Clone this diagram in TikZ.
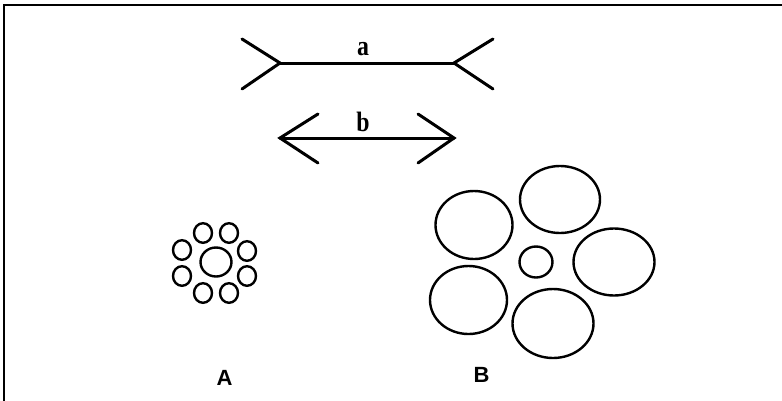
\documentclass[tikz,border=0pt]{standalone}
\usepackage{fontspec}
\setmainfont{Liberation Serif}
\setsansfont{Liberation Sans}
\begin{document}
\begin{tikzpicture}[x=1pt,y=-1pt,
  fig/.style={line width=3pt,line cap=round,line join=miter},
  ring/.style={line width=2.4pt},
  lower/.style={font=\bfseries\fontsize{28}{28}\selectfont,inner sep=0pt,xscale=0.85},
  upper/.style={font=\sffamily\bfseries\fontsize{22}{22}\selectfont,inner sep=0pt}]
\useasboundingbox (0,0) rectangle (782,400);
% frame (top and left edges only)
\draw[line width=2.2pt] (4,401) -- (4,5) -- (783,5);
% figure a
\coordinate (aL) at (280,63);
\coordinate (aR) at (454,63);
\coordinate (aL1) at (242,39);
\coordinate (aL2) at (242,89);
\coordinate (aR1) at (493,39);
\coordinate (aR2) at (493,89);
\draw[fig] (aL1) -- (aL) -- (aL2);
\draw[fig] (aR1) -- (aR) -- (aR2);
\draw[fig] (aL) -- (aR);
\node[lower] (la) at (363,49) {a};
% figure b
\coordinate (bL) at (280,138);
\coordinate (bR) at (454,138);
\coordinate (bL1) at (318,114);
\coordinate (bL2) at (318,163);
\coordinate (bR1) at (418,114);
\coordinate (bR2) at (418,163);
\draw[fig] (bL1) -- (bL) -- (bL2);
\draw[fig] (bR1) -- (bR) -- (bR2);
\draw[fig] (bL) -- (bR);
\node[lower] (lb) at (363,122) {b};
% circles A
\draw[ring] (216,262) ellipse [x radius=15.5, y radius=14.5];
\foreach \px/\py in {203/233, 229/233, 182/250, 247/251, 182/276, 247/276, 203/293, 229/293}
  \draw[ring] (\px,\py) ellipse [x radius=9, y radius=9.8];
% circles B
\draw[ring] (536,262) ellipse [x radius=16.5, y radius=15.5];
\draw[ring] (474,225) ellipse [x radius=38.5, y radius=34];
\draw[ring] (560,199.5) ellipse [x radius=40, y radius=33.5];
\draw[ring] (614,262) ellipse [x radius=40.5, y radius=33.5];
\draw[ring] (468.5,300) ellipse [x radius=38.5, y radius=34];
\draw[ring] (553,323.5) ellipse [x radius=40.5, y radius=34.5];
% labels
\node[upper] (lA) at (224.5,378) {A};
\node[upper] (lB) at (481.5,375) {B};
\end{tikzpicture}
\end{document}
